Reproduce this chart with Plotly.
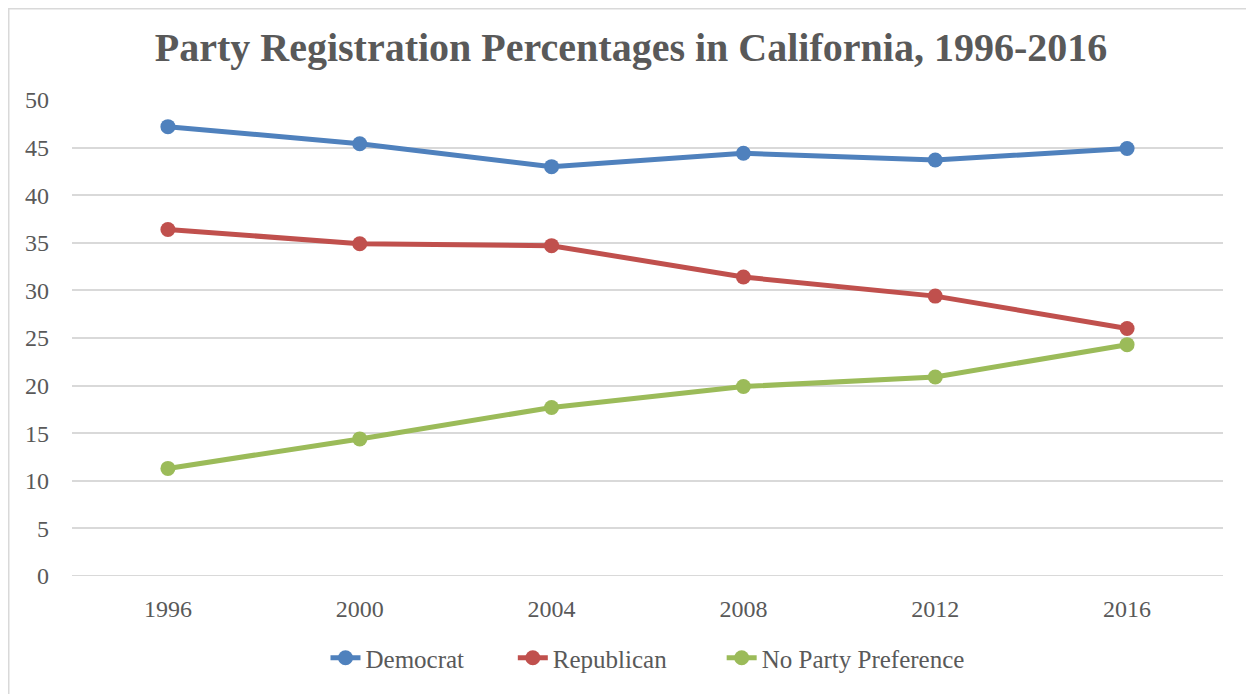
import plotly.graph_objects as go

years = ["1996", "2000", "2004", "2008", "2012", "2016"]
democrat = [47.2, 45.4, 43.0, 44.4, 43.7, 44.9]
republican = [36.4, 34.9, 34.7, 31.4, 29.4, 26.0]
no_party = [11.3, 14.4, 17.7, 19.9, 20.9, 24.3]
y_ticks = [0, 5, 10, 15, 20, 25, 30, 35, 40, 45, 50]

NB = "\u00a0"
series = [
    ("Democrat", democrat, "#4f81bd", 7),
    ("Republican", republican, "#c0504d", 8),
    ("No Party Preference", no_party, "#9bbb59", 0),
]

FONT = "Liberation Serif"
OFF = 8  # page body margin
W, H = 1254 - OFF, 694 - OFF
L, R, T, B = 72 - OFF, 31, 100 - OFF, 694 - 576
pw = W - L - R
ph = H - T - B

fig = go.Figure()
for name, vals, col, pad in series:
    fig.add_trace(go.Scatter(
        x=years, y=vals, name=name + NB * pad, mode="lines+markers",
        line=dict(color=col, width=5),
        marker=dict(color=col, size=15),
        hovertemplate=name + ": %{y}<extra></extra>",
    ))

fig.update_layout(
    width=W, height=H,
    margin=dict(l=L, r=R, t=T, b=B),
    paper_bgcolor="white", plot_bgcolor="white",
    title=dict(text="<b>Party Registration Percentages in California, 1996-2016</b>",
               x=0.5, xanchor="center", xref="container", y=1 - (47 - OFF) / H, yanchor="middle",
               font=dict(family=FONT, size=40, color="#595959")),
    font=dict(family=FONT, size=24, color="#595959"),
    showlegend=True,
    legend=dict(orientation="h", x=0.5, xanchor="center", y=-(658 - 576) / ph, yanchor="middle",
                font=dict(family=FONT, size=25, color="#595959"),
                traceorder="normal"),
    xaxis=dict(type="category", range=[-0.5, 5.5], showgrid=False, showline=False,
               zeroline=False, ticks="", tickfont=dict(size=24, color="#595959"),
               ticklabelstandoff=16),
    yaxis=dict(range=[0, 50], tickvals=y_ticks, showgrid=True, gridcolor="#d9d9d9",
               gridwidth=2, zeroline=False, showline=False, ticks="",
               tickfont=dict(size=24, color="#595959"), ticklabelstandoff=22),
    shapes=[dict(type="rect", xref="paper", yref="paper",
                 x0=-(L - 0.5) / pw, x1=(1250 - 72) / pw,
                 y0=-(H + 5 - T - ph) / ph, y1=1 + (T - 0.5) / ph,
                 line=dict(color="#d9d9d9", width=2), layer="below")],
)
fig.add_shape(type="line", xref="paper", yref="y", x0=0, x1=1, y0=0, y1=0,
              line=dict(color="#d9d9d9", width=2), layer="below")

fig.write_html("out.html")
